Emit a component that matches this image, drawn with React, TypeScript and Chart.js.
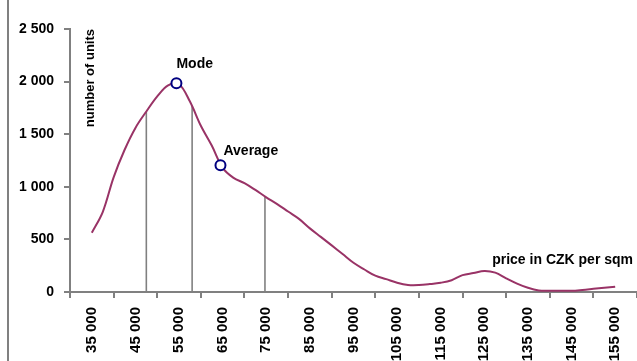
import React, { useEffect, useRef } from 'react';
import { Chart, registerables } from 'chart.js';

Chart.register(...registerables);

// ---- data ----
const prices = [
  35000, 37500, 40000, 42500, 45000, 47500, 50000, 52500, 55000, 57500,
  60000, 62500, 65000, 67500, 70000, 72500, 75000, 77500, 80000, 82500,
  85000, 87500, 90000, 92500, 95000, 97500, 100000, 102500, 105000, 107500,
  110000, 112500, 115000, 117500, 120000, 122500, 125000, 127500, 130000, 132500,
  135000, 137500, 140000, 142500, 145000, 147500, 150000, 152500, 155000,
];
const units = [
  563, 760, 1090, 1350, 1560, 1716, 1860, 1965, 1975, 1810,
  1580, 1392, 1180, 1085, 1035, 970, 900, 836, 765, 695,
  605, 524, 443, 361, 278, 214, 155, 122, 88, 67,
  66, 75, 88, 112, 160, 180, 200, 184, 130, 80,
  40, 15, 12, 12, 12, 20, 30, 40, 50,
];
const xTickPrices = [
  35000, 45000, 55000, 65000, 75000, 85000, 95000,
  105000, 115000, 125000, 135000, 145000, 155000,
];
const yTickValues = [0, 500, 1000, 1500, 2000, 2500];
const dropPrices = [47500, 58000, 74700];
const dropUnits = [1714, 1768, 912];
const markerNames = ['Mode', 'Average'];
const markerPrices = [54400, 64500];
const markerUnits = [1984, 1205];
const xTitle = 'price in CZK per sqm';
const yTitle = 'number of units';

const FONT = '"Liberation Sans", Arial, sans-serif';
const fmt = (v: number | string) =>
  String(v).replace(/\B(?=(\d{3})+(?!\d))/g, ' ');

const annotations = {
  id: 'annotations',
  beforeDraw(chart: any) {
    const { ctx, height } = chart;
    ctx.save();
    ctx.fillStyle = '#808080';
    ctx.fillRect(7, 0, 2, height);
    ctx.restore();
  },
  afterDatasetsDraw(chart: any) {
    const { ctx, chartArea, scales } = chart;
    const x = scales.x;
    const y = scales.y;
    ctx.save();
    ctx.fillStyle = '#000';
    ctx.font = `bold 14px ${FONT}`;
    ctx.textAlign = 'left';
    ctx.textBaseline = 'middle';
    markerNames.forEach((name, i) => {
      const px = x.getPixelForValue(markerPrices[i]);
      const py = y.getPixelForValue(markerUnits[i]);
      if (i === 0) ctx.fillText(name, px, py - 19);
      else ctx.fillText(name, px + 3, py - 14);
    });
    ctx.textAlign = 'right';
    ctx.fillText(xTitle, chartArea.right - 4, y.getPixelForValue(300));
    ctx.font = `bold 13px ${FONT}`;
    ctx.translate(chartArea.left + 20, chartArea.top);
    ctx.rotate(-Math.PI / 2);
    ctx.textAlign = 'right';
    ctx.textBaseline = 'middle';
    ctx.fillText(yTitle, 0, 0);
    ctx.restore();
  },
};

export default function App() {
  const ref = useRef<HTMLCanvasElement | null>(null);

  useEffect(() => {
    if (!ref.current) return;
    const curve = prices.map((p, i) => ({ x: p, y: units[i] }));
    const markers = markerPrices.map((p, i) => ({ x: p, y: markerUnits[i] }));
    const drops = dropPrices.map((p, i) => ({
      type: 'line' as const,
      data: [
        { x: p, y: 0 },
        { x: p, y: dropUnits[i] },
      ],
      borderColor: '#808080',
      borderWidth: 1.6,
      pointRadius: 0,
      tension: 0,
    }));

    const chart = new Chart(ref.current, {
      type: 'line',
      data: {
        datasets: [
          {
            data: markers,
            showLine: false,
            pointRadius: 5,
            pointBorderWidth: 2,
            pointBorderColor: '#000080',
            pointBackgroundColor: '#ffffff',
            borderColor: '#000080',
          },
          {
            data: curve,
            borderColor: '#993366',
            borderWidth: 2,
            pointRadius: 0,
            tension: 0.35,
            fill: false,
          },
          ...drops,
        ] as any,
      },
      options: {
        responsive: false,
        animation: false,
        devicePixelRatio: 1,
        layout: { autoPadding: false, padding: { top: 29, right: 0, bottom: 0, left: 0 } },
        plugins: {
          legend: { display: false },
          tooltip: { enabled: false },
        },
        scales: {
          x: {
            type: 'linear',
            min: 30000,
            max: 160000,
            afterBuildTicks: (s: any) => {
              s.ticks = xTickPrices.map((v) => ({ value: v }));
            },
            afterFit: (s: any) => {
              s.height = 69;
              s.paddingLeft = 0;
              s.paddingRight = 0;
            },
            grid: {
              offset: true,
              drawOnChartArea: false,
              drawTicks: true,
              tickLength: 6,
              color: '#808080',
              lineWidth: 2,
            },
            border: { color: '#808080', width: 2 },
            ticks: {
              autoSkip: false,
              minRotation: 90,
              maxRotation: 90,
              padding: 9,
              color: '#000',
              font: { family: FONT, size: 15, weight: 'bold' },
              callback: (v: any) => fmt(v),
            },
          },
          y: {
            min: 0,
            max: 2500,
            afterBuildTicks: (s: any) => {
              s.ticks = yTickValues.map((v) => ({ value: v }));
            },
            afterFit: (s: any) => {
              s.width = 70;
            },
            grid: {
              drawOnChartArea: false,
              drawTicks: true,
              tickLength: 6,
              color: '#808080',
              lineWidth: 2,
            },
            border: { color: '#808080', width: 2 },
            ticks: {
              padding: 10,
              color: '#000',
              font: { family: FONT, size: 14, weight: 'bold' },
              callback: (v: any) => fmt(v),
            },
          },
        },
      } as any,
      plugins: [annotations],
    });
    return () => chart.destroy();
  }, []);

  return (
    <div style={{ position: 'fixed', left: 0, top: 0, width: 637, height: 361, background: '#fff' }}>
      <canvas ref={ref} width={637} height={361} style={{ display: 'block' }} />
    </div>
  );
}
